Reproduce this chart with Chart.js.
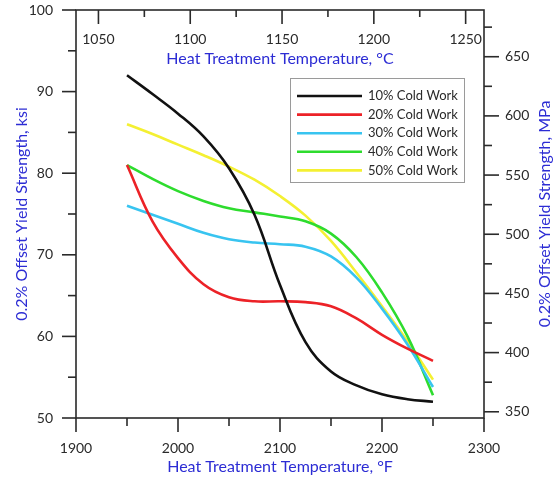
<!DOCTYPE html>
<html>
<head>
<meta charset="utf-8">
<script src="https://cdn.jsdelivr.net/npm/chart.js@4.4.1/dist/chart.umd.min.js"></script>
<style>
  html, body { margin: 0; padding: 0; background: #fff; }
  #wrap { width: 553px; height: 480px; position: relative; }
</style>
</head>
<body>
<div id="wrap"><canvas id="chart"></canvas></div>
<script>
// Heat treatment temperature (°F) at which each curve is sampled
const tempF = [1950, 1975, 2000, 2025, 2050, 2075, 2100, 2125, 2150, 2175, 2200, 2225, 2250];

// 0.2% offset yield strength, ksi
const cw10 = [92.0, 89.7, 87.3, 84.5, 80.6, 74.9, 66.3, 59.3, 55.7, 54.0, 52.9, 52.3, 52.0];
const cw20 = [81.0, 74.1, 69.6, 66.4, 64.8, 64.3, 64.3, 64.2, 63.7, 62.2, 60.2, 58.5, 57.0];
const cw30 = [76.0, 74.9, 73.8, 72.7, 71.9, 71.5, 71.3, 71.0, 69.8, 67.2, 63.4, 59.0, 53.8];
const cw40 = [81.0, 79.3, 77.8, 76.6, 75.7, 75.2, 74.7, 74.1, 72.6, 69.7, 65.4, 60.0, 52.8];
const cw50 = [86.0, 84.8, 83.5, 82.2, 80.8, 79.2, 77.2, 74.8, 71.7, 67.8, 63.7, 59.4, 54.7];

const seriesNames = ['10% Cold Work', '20% Cold Work', '30% Cold Work', '40% Cold Work', '50% Cold Work'];
const seriesColors = ['#111111', '#ec2227', '#38c4f0', '#2edc2e', '#f4f032'];

// axis ticks
const fMajor = [1900, 2000, 2100, 2200, 2300];
const fMinor = [1950, 2050, 2150, 2250];
const cMajor = [1050, 1100, 1150, 1200, 1250];
const cMinor = [1075, 1125, 1175, 1225];
const ksiMajor = [50, 60, 70, 80, 90, 100];
const ksiMinor = [55, 65, 75, 85, 95];
const mpaMajor = [350, 400, 450, 500, 550, 600, 650];
const mpaMinor = [375, 425, 475, 525, 575, 625, 675];

const KSI_TO_MPA = 6.894757;
const FONT = 'Lato, "Open Sans", sans-serif';
const BLUE = '#2c2cd4';
const INK = '#2a2a2a';

const pts = arr => arr.map((v, i) => ({ x: tempF[i], y: v }));
const allSeries = [cw10, cw20, cw30, cw40, cw50];

const datasets = allSeries.map((s, i) => ({
    label: seriesNames[i],
    data: pts(s),
    borderColor: seriesColors[i],
    backgroundColor: seriesColors[i],
    borderWidth: 2.6,
    pointRadius: 0,
    tension: 0.4,
    fill: false,
    xAxisID: 'x',
    yAxisID: 'y'
}));

// ticks, frame, top °C axis, right title and legend
const extras = {
    id: 'extras',
    afterDraw(chart) {
        const ctx = chart.ctx;
        const a = chart.chartArea;
        const x = chart.scales.x, y = chart.scales.y, y2 = chart.scales.y2;
        const cx = c => x.getPixelForValue(c * 1.8 + 32);
        ctx.save();
        ctx.strokeStyle = INK;
        ctx.lineWidth = 1.6;
        ctx.strokeRect(a.left, a.top, a.right - a.left, a.bottom - a.top);

        const line = (x1, y1, x2, y2p) => {
            ctx.beginPath(); ctx.moveTo(x1, y1); ctx.lineTo(x2, y2p); ctx.stroke();
        };
        fMajor.forEach(v => { const p = x.getPixelForValue(v); line(p, a.bottom, p, a.bottom + 14); });
        fMinor.forEach(v => { const p = x.getPixelForValue(v); line(p, a.bottom, p, a.bottom + 8); });
        ksiMajor.forEach(v => { const p = y.getPixelForValue(v); line(a.left - 14, p, a.left, p); });
        ksiMinor.forEach(v => { const p = y.getPixelForValue(v); line(a.left - 8, p, a.left, p); });
        mpaMajor.forEach(v => { const p = y2.getPixelForValue(v); line(a.right, p, a.right + 15, p); });
        mpaMinor.forEach(v => { const p = y2.getPixelForValue(v); line(a.right, p, a.right + 8, p); });
        cMajor.forEach(v => { const p = cx(v); line(p, a.top, p, a.top + 14); });
        cMinor.forEach(v => { const p = cx(v); line(p, a.top, p, a.top + 7); });

        // top axis labels and title (inside the plot)
        ctx.fillStyle = INK;
        ctx.font = '14px ' + FONT;
        ctx.textAlign = 'center';
        ctx.textBaseline = 'middle';
        cMajor.forEach(v => ctx.fillText(String(v), cx(v), 39));
        ctx.fillStyle = BLUE;
        ctx.font = '16px ' + FONT;
        ctx.fillText('Heat Treatment Temperature, °C', (a.left + a.right) / 2, 59);

        // right title, reading bottom to top
        ctx.save();
        ctx.translate(545, (a.top + a.bottom) / 2);
        ctx.rotate(-Math.PI / 2);
        ctx.fillText('0.2% Offset Yield Strength, MPa', 0, 0);
        ctx.restore();

        // legend
        const lx = 290, ly = 78, lw = 174, lh = 104;
        ctx.fillStyle = '#fff';
        ctx.fillRect(lx, ly, lw, lh);
        ctx.strokeStyle = '#9a9a9a';
        ctx.lineWidth = 1;
        ctx.strokeRect(lx + 0.5, ly + 0.5, lw, lh);
        ctx.font = '13px ' + FONT;
        ctx.textAlign = 'left';
        chart.data.datasets.forEach((ds, i) => {
            const ry = 96 + i * 18.6;
            ctx.strokeStyle = ds.borderColor;
            ctx.lineWidth = 2.6;
            line(297, ry, 362, ry);
            ctx.fillStyle = INK;
            ctx.fillText(ds.label, 368, ry);
        });
        ctx.restore();
    }
};

const plain = v => String(v);

new Chart(document.getElementById('chart'), {
    type: 'line',
    data: { datasets },
    plugins: [extras],
    options: {
        responsive: true,
        maintainAspectRatio: false,
        animation: false,
        layout: { padding: { top: 10 } },
        plugins: { legend: { display: false }, tooltip: { enabled: false } },
        scales: {
            x: {
                type: 'linear',
                position: 'bottom',
                min: 1900, max: 2300,
                afterBuildTicks: s => { s.ticks = fMajor.map(v => ({ value: v })); },
                afterFit: s => { s.height = 62; s.paddingLeft = 0; s.paddingRight = 0; },
                grid: { display: false, drawTicks: false },
                border: { display: false },
                ticks: { color: INK, font: { family: FONT, size: 14 }, padding: 22, maxRotation: 0, callback: plain },
                title: { display: true, text: 'Heat Treatment Temperature, °F', color: BLUE,
                         font: { family: FONT, size: 16 }, padding: { top: 0, bottom: 4 } }
            },
            y: {
                type: 'linear',
                position: 'left',
                min: 50, max: 100,
                afterBuildTicks: s => { s.ticks = ksiMajor.map(v => ({ value: v })); },
                afterFit: s => { s.width = 76; s.paddingTop = 0; s.paddingBottom = 0; },
                grid: { display: false, drawTicks: false },
                border: { display: false },
                ticks: { color: INK, font: { family: FONT, size: 14 }, padding: 23, callback: plain },
                title: { display: true, text: '0.2% Offset Yield Strength, ksi', color: BLUE,
                         font: { family: FONT, size: 16 }, padding: { top: 12, bottom: 0 } }
            },
            y2: {
                type: 'linear',
                position: 'right',
                min: 50 * KSI_TO_MPA, max: 100 * KSI_TO_MPA,
                afterBuildTicks: s => { s.ticks = mpaMajor.map(v => ({ value: v })); },
                afterFit: s => { s.width = 69; s.paddingTop = 0; s.paddingBottom = 0; },
                grid: { display: false, drawTicks: false },
                border: { display: false },
                ticks: { color: INK, font: { family: FONT, size: 14 }, padding: 21, callback: plain }
            }
        }
    }
});
</script>
</body>
</html>
